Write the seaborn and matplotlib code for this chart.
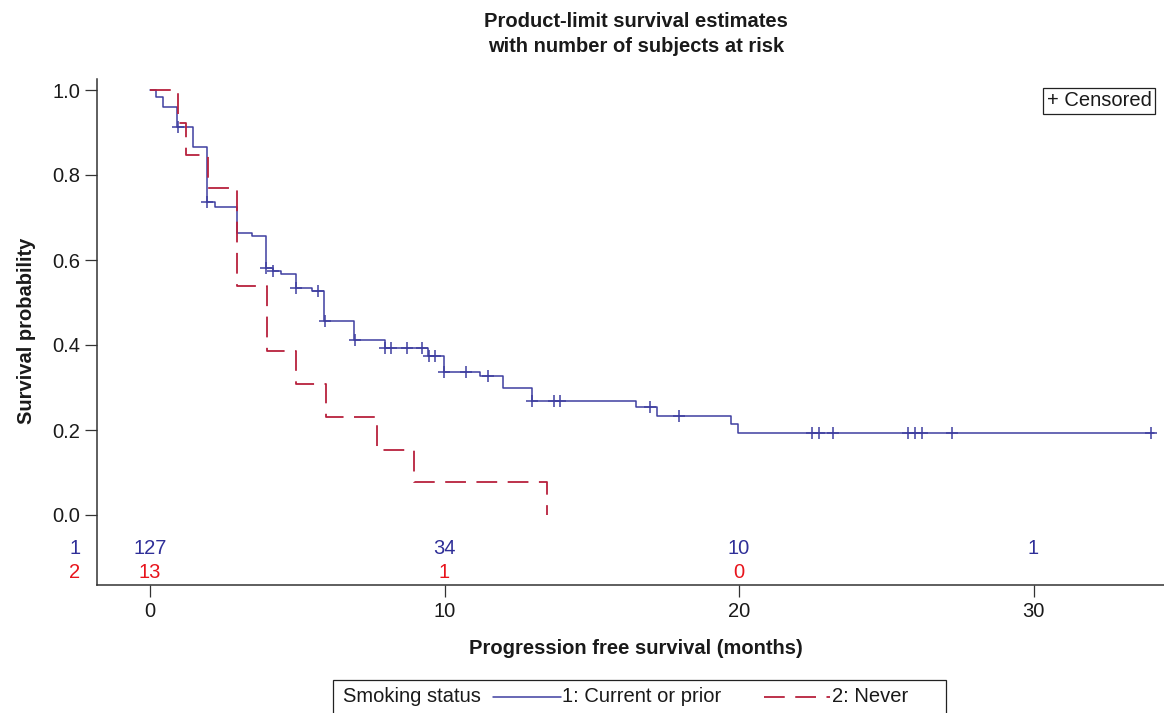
import matplotlib
matplotlib.use("Agg")
import matplotlib.pyplot as plt
from matplotlib.lines import Line2D
from matplotlib.patches import Rectangle
import seaborn as sns
import pandas as pd

# ---------------- data ----------------
blue_time = [0, 0.2, 0.43, 0.92, 1.47, 1.93, 2.2, 2.94, 3.45, 3.93, 4.17, 4.45, 4.96,
             5.49, 5.92, 6.94, 7.98, 9.45, 9.98, 11.2, 11.98, 12.96, 16.49, 17.23,
             19.72, 19.97, 34.1]
blue_surv = [1.0, 0.984, 0.961, 0.913, 0.866, 0.737, 0.724, 0.663, 0.657, 0.582, 0.575,
             0.566, 0.535, 0.527, 0.456, 0.411, 0.392, 0.373, 0.337, 0.327, 0.298,
             0.269, 0.253, 0.232, 0.213, 0.193, 0.193]
blue_cens_time = [0.94, 1.95, 3.94, 4.19, 4.95, 5.72, 5.93, 6.95, 7.99, 8.2, 8.72, 9.22,
                  9.46, 9.68, 9.99, 10.73, 11.47, 12.97, 13.72, 13.92, 16.98, 17.97,
                  22.47, 22.72, 23.2, 25.73, 25.98, 26.2, 27.22, 33.99]
blue_cens_surv = [0.913, 0.737, 0.582, 0.575, 0.535, 0.527, 0.456, 0.411, 0.392, 0.392,
                  0.392, 0.392, 0.373, 0.373, 0.337, 0.337, 0.327, 0.269, 0.269, 0.269,
                  0.253, 0.232, 0.193, 0.193, 0.193, 0.193, 0.193, 0.193, 0.193, 0.193]

red_time = [0, 0.96, 1.22, 1.96, 2.96, 3.96, 4.95, 5.98, 7.7, 8.96, 13.47]
red_surv = [1.0, 0.923, 0.846, 0.769, 0.538, 0.385, 0.308, 0.231, 0.154, 0.077, 0.0]

risk_times = [0, 10, 20, 30]
risk_group1 = ["127", "34", "10", "1"]
risk_group2 = ["13", "1", "0", ""]

x_ticks = [0, 10, 20, 30]
y_ticks = [0.0, 0.2, 0.4, 0.6, 0.8, 1.0]

title = "Product-limit survival estimates\nwith number of subjects at risk"
xlabel = "Progression free survival (months)"
ylabel = "Survival probability"
legend_title = "Smoking status"
label1 = "1: Current or prior"
label2 = "2: Never"

# ---------------- style ----------------
sns.set_style("white")
plt.rcParams["font.family"] = ["Liberation Sans", "DejaVu Sans"]
FS = 14.5
BLUE = "#3F3FA0"
RED = "#B8213D"
BLUE_TXT = "#2F2F98"
RED_TXT = "#E8141C"
DARK = "#333333"

W, H = 1164, 713
fig = plt.figure(figsize=(W / 100, H / 100), dpi=100)
def fx(px): return px / W
def fy(py): return 1 - py / H

ax = fig.add_axes([fx(97), fy(585), fx(1164) - fx(97), fy(79) - fy(585)])

df_blue = pd.DataFrame({"time": blue_time, "surv": blue_surv})
df_red = pd.DataFrame({"time": red_time, "surv": red_surv})
df_cens = pd.DataFrame({"time": blue_cens_time, "surv": blue_cens_surv})

sns.lineplot(data=df_blue, x="time", y="surv", ax=ax, color=BLUE, lw=1.1,
             drawstyle="steps-post", estimator=None, sort=False)
sns.lineplot(data=df_red, x="time", y="surv", ax=ax, color=RED, lw=1.3,
             drawstyle="steps-post", estimator=None, sort=False,
             dashes=False)
ax.lines[-1].set_dashes([11.5, 5.8])
sns.scatterplot(data=df_cens, x="time", y="surv", ax=ax, marker="+", color=BLUE,
                s=80, linewidth=1.1, zorder=5)

ax.set_xlim((97 - 150) / 29.45, (1164 - 150) / 29.45)
ax.set_ylim((515 - 585) / 425, (515 - 79) / 425)
ax.set_xticks(x_ticks)
ax.set_xticklabels([str(t) for t in x_ticks])
ax.set_yticks(y_ticks)
ax.set_yticklabels([f"{v:.1f}" for v in y_ticks])
ax.tick_params(axis="both", direction="out", length=8.6, width=0.9, color=DARK,
               labelsize=FS, labelcolor="#1a1a1a", pad=3.5)
ax.tick_params(left=True, bottom=True)
for s in ["top", "right"]:
    ax.spines[s].set_visible(False)
for s in ["left", "bottom"]:
    ax.spines[s].set_color(DARK)
    ax.spines[s].set_linewidth(1.1)
ax.set_xlabel("")
ax.set_ylabel("")

# at-risk numbers
y1 = (515 - 548) / 425
y2 = (515 - 572) / 425
for t, a, b in zip(risk_times, risk_group1, risk_group2):
    ax.text(t, y1, a, color=BLUE_TXT, fontsize=FS, ha="center", va="center")
    if b:
        ax.text(t, y2, b, color=RED_TXT, fontsize=FS, ha="center", va="center")
ax.text((75 - 150) / 29.45, y1, "1", color=BLUE_TXT, fontsize=FS, ha="center",
        va="center", clip_on=False)
ax.text((75 - 150) / 29.45, y2, "2", color=RED_TXT, fontsize=FS, ha="center",
        va="center", clip_on=False)

# titles / labels
fig.text(fx(636), fy(34), title, ha="center", va="center", fontsize=FS,
         fontweight="bold", color="#1a1a1a", linespacing=1.4)
fig.text(fx(636), fy(649), xlabel, ha="center", va="center", fontsize=FS,
         fontweight="bold", color="#1a1a1a")
fig.text(fx(27), fy(331), ylabel, ha="center", va="center", fontsize=FS,
         fontweight="bold", color="#1a1a1a", rotation=90)

# censored box
fig.text(fx(1099), fy(101), "+ Censored", ha="center", va="center", fontsize=FS,
         color="#1a1a1a",
         bbox=dict(boxstyle="square,pad=0.17", fc="white", ec="#222222", lw=0.9))

# bottom legend
fig.add_artist(Rectangle((fx(333), fy(725)), fx(946) - fx(333), fy(680) - fy(725),
                         transform=fig.transFigure, fill=False, ec="#222222", lw=0.9))
fig.text(fx(343), fy(697), legend_title, ha="left", va="center", fontsize=FS,
         color="#1a1a1a")
fig.add_artist(Line2D([fx(493), fx(561)], [fy(697), fy(697)], color=BLUE, lw=1.1,
                      transform=fig.transFigure))
fig.text(fx(562), fy(697), label1, ha="left", va="center", fontsize=FS, color="#1a1a1a")
fig.add_artist(Line2D([fx(764), fx(830)], [fy(697), fy(697)], color=RED, lw=1.3,
                      dashes=[11.5, 5.8], transform=fig.transFigure))
fig.text(fx(832), fy(697), label2, ha="left", va="center", fontsize=FS, color="#1a1a1a")

fig.savefig("out.png", dpi=100, facecolor="white")
